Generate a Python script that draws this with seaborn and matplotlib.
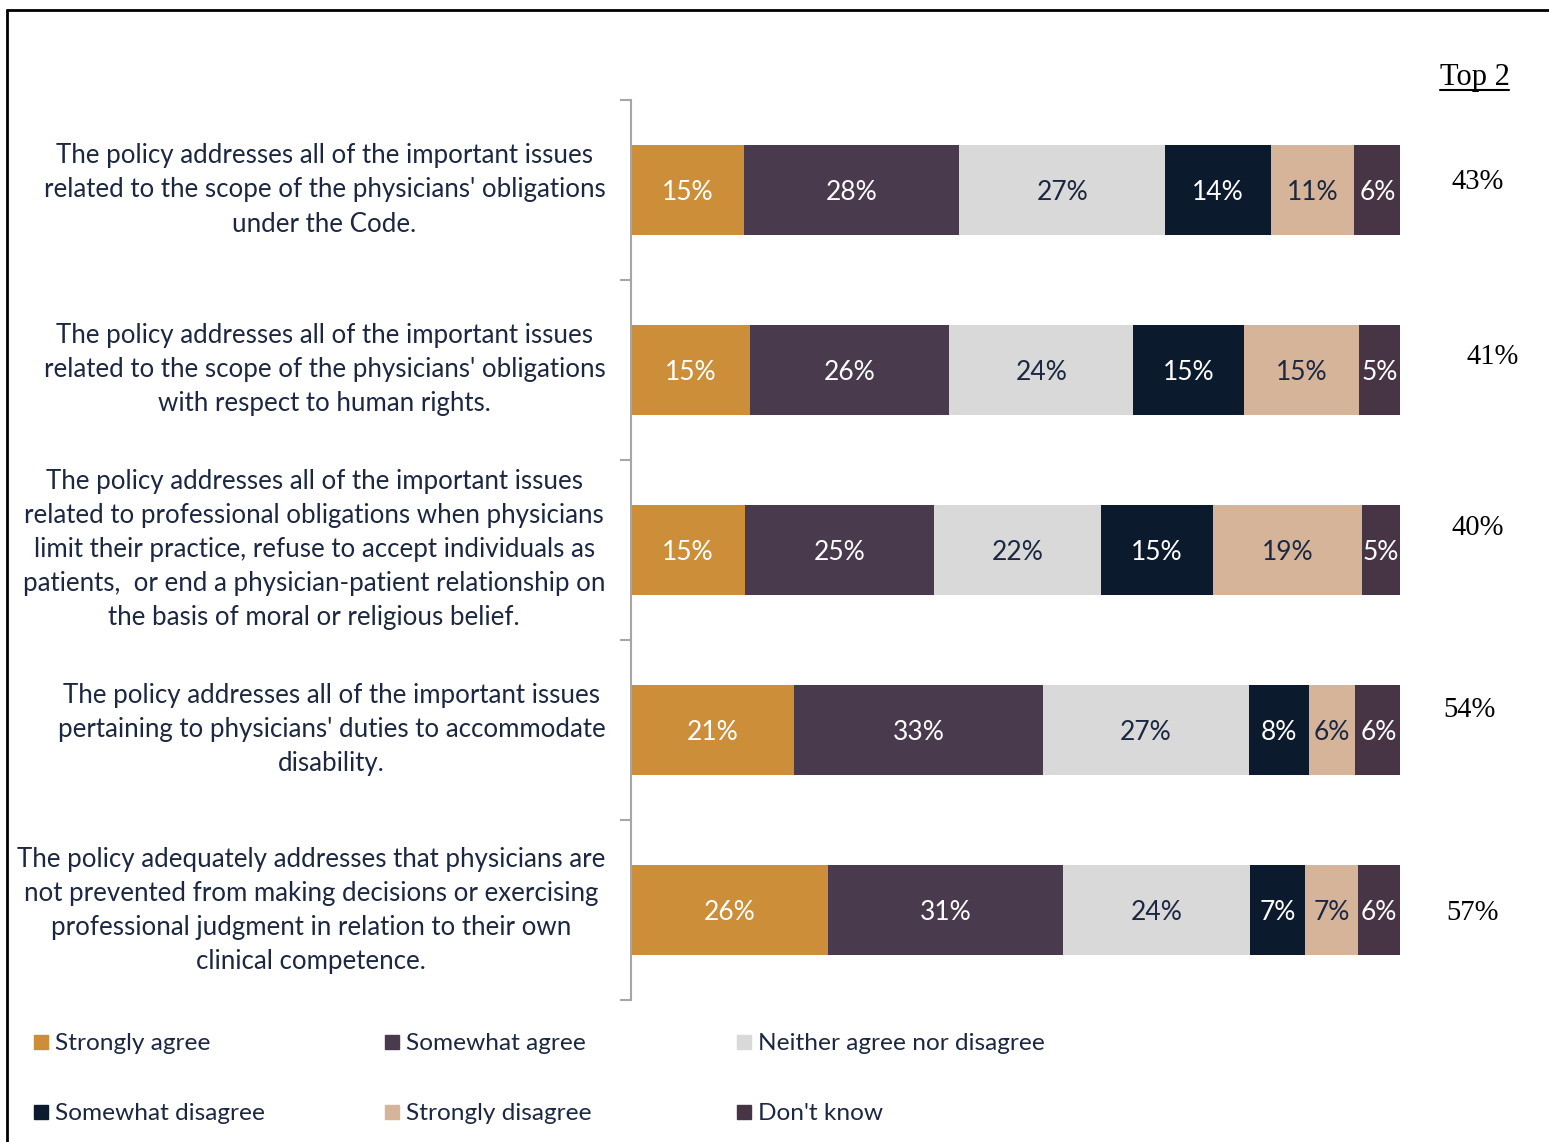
import numpy as np
import pandas as pd
import matplotlib.pyplot as plt
from matplotlib.lines import Line2D
from matplotlib.patches import Rectangle
import seaborn as sns

# data
statements = [
    "The policy addresses all of the important issues\nrelated to the scope of the physicians' obligations\nunder the Code.",
    "The policy addresses all of the important issues\nrelated to the scope of the physicians' obligations\nwith respect to human rights.",
    "The policy addresses all of the important issues\nrelated to professional obligations when physicians\nlimit their practice, refuse to accept individuals as\npatients,  or end a physician-patient relationship on\nthe basis of moral or religious belief.",
    "The policy addresses all of the important issues\npertaining to physicians' duties to accommodate\ndisability.",
    "The policy adequately addresses that physicians are\nnot prevented from making decisions or exercising\nprofessional judgment in relation to their own\nclinical competence.",
]
responses = ['Strongly agree', 'Somewhat agree', 'Neither agree nor disagree',
             'Somewhat disagree', 'Strongly disagree', "Don't know"]

# bar widths (unrounded)
strongly_agree = [14.7, 15.5, 14.8, 21.2, 25.6]
somewhat_agree = [28.0, 25.9, 24.6, 32.4, 30.6]
neither = [26.8, 23.9, 21.7, 26.7, 24.3]
somewhat_disagree = [13.7, 14.4, 14.6, 7.9, 7.2]
strongly_disagree = [10.8, 15.0, 19.4, 5.9, 6.8]
dont_know = [6.1, 5.3, 4.9, 6.2, 5.6]

# printed labels
lab_strongly_agree = [15, 15, 15, 21, 26]
lab_somewhat_agree = [28, 26, 25, 33, 31]
lab_neither = [27, 24, 22, 27, 24]
lab_somewhat_disagree = [14, 15, 15, 8, 7]
lab_strongly_disagree = [11, 15, 19, 6, 7]
lab_dont_know = [6, 5, 5, 6, 6]

top2 = [43, 41, 40, 54, 57]

colors = ['#CC8E38', '#4A3A4E', '#D9D9D9', '#0C1A2E', '#D5B49A', '#473546']
text_colors = ['white', 'white', '#1C2841', 'white', '#1C2841', 'white']
navy = '#1C2841'

values = [strongly_agree, somewhat_agree, neither, somewhat_disagree, strongly_disagree, dont_know]
shown = [lab_strongly_agree, lab_somewhat_agree, lab_neither,
         lab_somewhat_disagree, lab_strongly_disagree, lab_dont_know]

df = pd.DataFrame(dict(zip(responses, values)))
cum = df.cumsum(axis=1)
cum['statement'] = statements

sns.set_style('white')
plt.rcParams['font.family'] = ['Lato', 'DejaVu Sans']

W, H = 1549, 1142
fig = plt.figure(figsize=(W / 100, H / 100), dpi=100)
ax = fig.add_axes([631 / W, 1 - 1000 / H, (1400 - 631) / W, 900 / H])

# stacked bars: draw cumulative totals from the outermost segment inwards
for resp, col in reversed(list(zip(responses, colors))):
    sns.barplot(data=cum, x=resp, y='statement', color=col, width=0.5,
                saturation=1, orient='h', errorbar=None, linewidth=0, ax=ax)

for i, resp in enumerate(responses):
    for j in range(len(statements)):
        v = df[resp][j]
        x = cum[resp][j] - v / 2
        ax.text(x, j, f'{shown[i][j]}%', ha='center', va='center_baseline',
                color=text_colors[i], fontsize=19)

ax.set_xlim(0, 100)
ax.set_ylim(4.5, -0.5)
ax.set_xticks([])
ax.set_xlabel('')
ax.set_ylabel('')
for s in ['top', 'right', 'bottom']:
    ax.spines[s].set_visible(False)
ax.spines['left'].set_color('#A6A6A6')
ax.spines['left'].set_linewidth(1.5)
ax.set_yticks(np.arange(-0.5, 5, 1), minor=True)
ax.tick_params(axis='y', which='major', length=0, pad=18.5, labelsize=18.6, labelcolor=navy)
ax.tick_params(axis='y', which='minor', length=8, color='#A6A6A6', width=1.5, left=True)
for lbl in ax.get_yticklabels():
    lbl.set_multialignment('center')
    lbl.set_linespacing(1.45)
    lbl.set_va('center')

# Top 2 column
top2_x = [110.1, 112.0, 110.1, 109.1, 109.4]
top2_dy = [-0.06, -0.09, -0.14, -0.13, 0.0]
for j, v in enumerate(top2):
    ax.text(top2_x[j], j + top2_dy[j], f'{v}%', ha='center', va='center_baseline',
            fontsize=20.6, family='Liberation Serif', color='black', clip_on=False)
fig.text(1475 / W, 1 - 77 / H, 'Top 2', ha='center', va='center',
         fontsize=22, family='Liberation Serif', color='black')
fig.add_artist(Line2D([1440 / W, 1509 / W], [1 - 90 / H, 1 - 90 / H],
                      color='black', lw=1.5, transform=fig.transFigure))

# legend
leg_x = [34, 385, 737]
leg_y = [1042, 1112]
order = [[0, 1, 2], [3, 4, 5]]
for r, row in enumerate(order):
    for c, k in enumerate(row):
        fig.add_artist(Rectangle(((leg_x[c]) / W, 1 - (leg_y[r] + 7) / H), 14 / W, 14 / H,
                                 color=colors[k], transform=fig.transFigure))
        fig.text((leg_x[c] + 21) / W, 1 - leg_y[r] / H, responses[k],
                 ha='left', va='center_baseline', fontsize=17.6, color=navy)

# outer frame
fig.add_artist(Line2D([7 / W, 1], [1 - 10 / H, 1 - 10 / H], color='black', lw=2,
                      transform=fig.transFigure))
fig.add_artist(Line2D([7 / W, 7 / W], [0, 1 - 10 / H], color='black', lw=2,
                      transform=fig.transFigure))

fig.savefig('out.png', dpi=100)
